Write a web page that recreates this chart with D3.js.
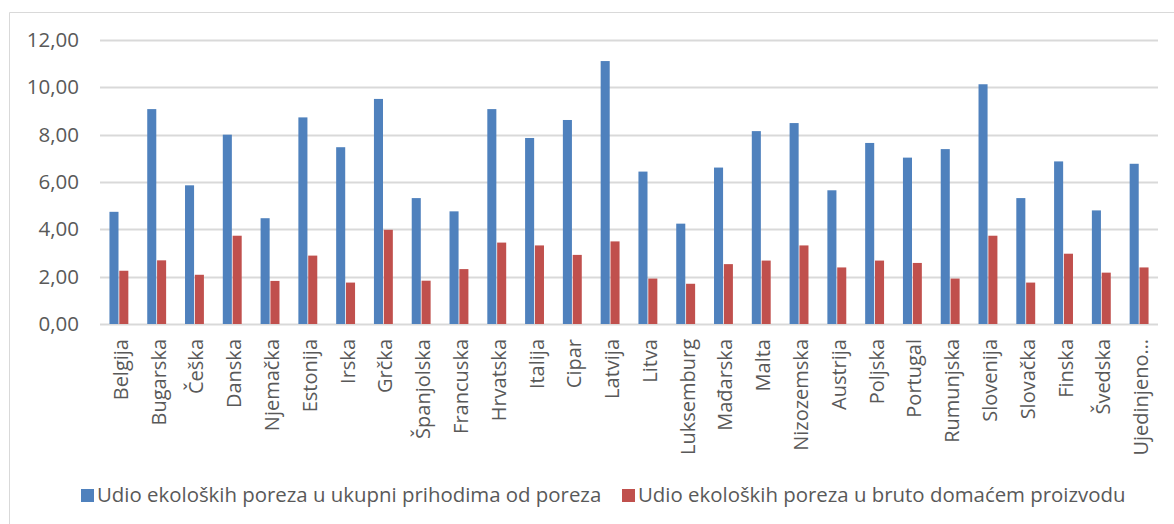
<html>
<head>
    <meta charset="utf-8">
    <title>Udio ekoloških poreza</title>
    <script src="https://d3js.org/d3.v7.min.js"></script>
    <style>
        body { margin: 0; background: #fff; }
        text { font-family: "Open Sans", sans-serif; fill: #595959; }
    </style>
</head>
<body>
    <div id="chart"></div>
    <script>
        // categories (EU member states)
        var countries = ["Belgija", "Bugarska", "Češka", "Danska", "Njemačka", "Estonija", "Irska", "Grčka",
            "Španjolska", "Francuska", "Hrvatska", "Italija", "Cipar", "Latvija", "Litva", "Luksemburg",
            "Mađarska", "Malta", "Nizozemska", "Austrija", "Poljska", "Portugal", "Rumunjska", "Slovenija",
            "Slovačka", "Finska", "Švedska", "Ujedinjeno…"]

        // share of eco taxes in total tax revenue
        var udioPorezi = [4.74, 9.08, 5.86, 8.00, 4.47, 8.73, 7.47, 9.51, 5.32, 4.76, 9.08, 7.86, 8.62, 11.11,
            6.44, 4.24, 6.61, 8.15, 8.49, 5.65, 7.65, 7.03, 7.39, 10.13, 5.32, 6.87, 4.80, 6.77]

        // share of eco taxes in GDP
        var udioBdp = [2.25, 2.69, 2.08, 3.73, 1.82, 2.89, 1.75, 3.98, 1.83, 2.32, 3.44, 3.32, 2.92, 3.49,
            1.92, 1.70, 2.53, 2.68, 3.32, 2.39, 2.68, 2.58, 1.92, 3.73, 1.75, 2.97, 2.17, 2.39]

        var seriesNames = ["Udio ekoloških poreza u ukupni prihodima od poreza",
            "Udio ekoloških poreza u bruto domaćem proizvodu"]
        var yTicks = [0, 2, 4, 6, 8, 10, 12]

        var W = 1174, H = 524
        var colors = ["#4F81BD", "#C0504D"]

        var svg = d3.select("#chart").append("svg")
            .attr("width", W)
            .attr("height", H)

        // outer chart frame (only top and left edges visible)
        svg.append("path")
            .attr("d", "M9.5,524 V12.5 H1174")
            .attr("fill", "none")
            .attr("stroke", "#d9d9d9")

        var x = d3.scaleBand()
            .domain(countries)
            .range([100, 1158])
            .paddingInner(0.5)
            .paddingOuter(0.25)

        var x1 = d3.scaleBand()
            .domain([0, 1])
            .range([0, x.bandwidth()])
            .paddingInner(0.08)

        var y = d3.scaleLinear()
            .domain([0, 12])
            .range([324, 40])

        var fmt = d3.formatLocale({decimal: ",", thousands: ".", grouping: [3], currency: ["", ""]}).format(".2f")

        // gridlines
        svg.append("g")
            .selectAll("line")
            .data(yTicks)
            .enter()
            .append("line")
                .attr("x1", 100)
                .attr("x2", 1158)
                .attr("y1", function(d) { return Math.round(y(d)) + 0.5 })
                .attr("y2", function(d) { return Math.round(y(d)) + 0.5 })
                .attr("stroke", "#d9d9d9")
                .attr("stroke-width", 2)

        // y labels
        var yAxis = svg.append("g")
            .attr("transform", "translate(79,0)")
            .call(d3.axisLeft(y).tickValues(yTicks).tickFormat(fmt).tickSize(0).tickPadding(0))
        yAxis.select(".domain").remove()
        yAxis.selectAll("text")
            .style("font-size", "20.5px")
            .attr("fill", "#595959")
            .attr("font-family", "Open Sans")

        // bars
        var groups = svg.append("g")
            .selectAll("g")
            .data(countries)
            .enter()
            .append("g")
                .attr("transform", function(d) { return "translate(" + x(d) + ",0)" })

        groups.selectAll("rect")
            .data(function(d, i) { return [udioPorezi[i], udioBdp[i]] })
            .enter()
            .append("rect")
                .attr("x", function(d, j) { return x1(j) })
                .attr("width", x1.bandwidth())
                .attr("y", function(d) { return y(d) })
                .attr("height", function(d) { return y(0) - y(d) })
                .attr("fill", function(d, j) { return colors[j] })

        // x labels, rotated
        svg.append("g")
            .selectAll("text")
            .data(countries)
            .enter()
            .append("text")
                .attr("transform", function(d) { return "translate(" + (x(d) + x.bandwidth() / 2 + 2) + ",339) rotate(-90)" })
                .attr("text-anchor", "end")
                .attr("dy", "0.35em")
                .style("font-size", "20px")
                .text(function(d) { return d })

        // legend
        var legend = svg.append("g")
        var lx = [81, 622]
        seriesNames.forEach(function(name, i) {
            legend.append("rect")
                .attr("x", lx[i])
                .attr("y", 489)
                .attr("width", 13)
                .attr("height", 13)
                .attr("fill", colors[i])
            legend.append("text")
                .attr("x", lx[i] + 16)
                .attr("y", 495)
                .attr("dy", "0.35em")
                .style("font-size", "20.4px")
                .text(name)
        })
    </script>
</body>
</html>
